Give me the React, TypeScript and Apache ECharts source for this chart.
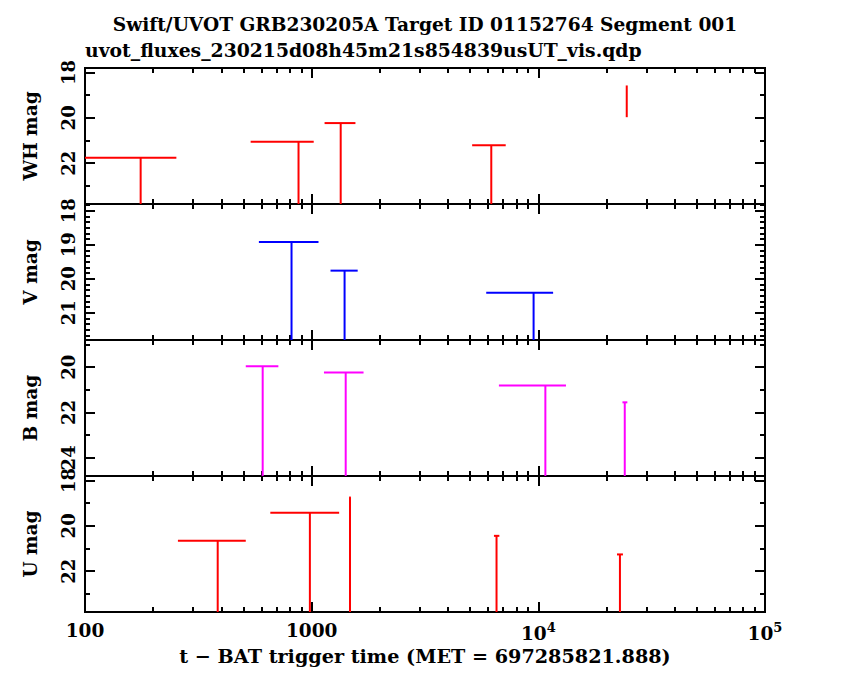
import { useEffect, useRef } from "react";
import * as echarts from "echarts";

const titleText = "Swift/UVOT GRB230205A Target ID 01152764 Segment 001";
const fileText = "uvot_fluxes_230215d08h45m21s854839usUT_vis.qdp";
const xTitle = "t − BAT trigger time (MET = 697285821.888)";

const bandNames = ["WH mag", "V mag", "B mag", "U mag"];
const bandColors = ["#ff0000", "#0000ff", "#ff00ff", "#ff0000"];
const bandMin = [17.8, 17.8, 18.8, 17.8];
const bandMax = [23.8, 21.8, 24.8, 23.8];
const bandMajor = [[18, 20, 22], [18, 19, 20, 21], [20, 22, 24], [18, 20, 22]];
const bandMinor = [
    [19, 21, 23],
    [17.833, 18.167, 18.333, 18.5, 18.667, 18.833, 19.167, 19.333, 19.5, 19.667, 19.833,
        20.167, 20.333, 20.5, 20.667, 20.833, 21.167, 21.333, 21.5, 21.667],
    [19, 21, 23],
    [19, 21, 23],
];

const xMajor = [100, 1000, 10000, 100000];
const xMinor = [200, 300, 400, 500, 600, 700, 800, 900,
    2000, 3000, 4000, 5000, 6000, 7000, 8000, 9000,
    20000, 30000, 40000, 50000, 60000, 70000, 80000, 90000];

// upper limits: mid time, low/high time edges, limiting magnitude
const whTime = [176, 875, 1343, 6200];
const whLow = [100, 538, 1140, 5105];
const whHigh = [253, 1021, 1560, 7180];
const whMag = [21.76, 21.05, 20.23, 21.21];
// detection
const whDetTime = [24550];
const whDetMag = [19.27];
const whDetErr = [0.7];

const vTime = [815, 1397, 9530];
const vLow = [585, 1211, 5890];
const vHigh = [1072, 1596, 11620];
const vMag = [18.92, 19.76, 20.41];

const bTime = [608, 1413, 10740, 24060];
const bLow = [512, 1133, 6700, 23500];
const bHigh = [713, 1694, 13240, 24700];
const bMag = [19.96, 20.23, 20.81, 21.55];

const uTime = [385, 982, 1476, 6540, 22910];
const uLow = [257, 657, 1470, 6370, 22230];
const uHigh = [512, 1322, 1482, 6730, 23620];
const uMag = [20.66, 19.42, 18.73, 20.44, 21.26];

const limits = [
    [whTime, whLow, whHigh, whMag],
    [vTime, vLow, vHigh, vMag],
    [bTime, bLow, bHigh, bMag],
    [uTime, uLow, uHigh, uMag],
];

const FONT = "DejaVu Serif";
const GRID_TOP = 68;
const GRID_H = 136;

function tickAxis(kind: "x" | "y", i: number, position: string, values: number[], length: number) {
    const common: any = {
        gridIndex: i,
        position,
        splitLine: {show: false},
        axisLine: {show: false, onZero: false},
        axisLabel: {show: false},
        axisTick: {show: true, inside: true, length, customValues: values, lineStyle: {color: "#000", width: 2}},
    };
    if (kind === "x") return {...common, type: "log", logBase: 10, min: 100, max: 100000};
    return {...common, type: "value", inverse: true, min: bandMin[i], max: bandMax[i]};
}

function xLabel(v: number) {
    if (v === 100) return "100";
    if (v === 1000) return "1000";
    return "10{sup|" + Math.round(Math.log10(v)) + "}";
}

function buildOption() {
    const grid: any[] = [];
    const xAxis: any[] = [];
    const yAxis: any[] = [];
    const series: any[] = [];

    bandNames.forEach((name, i) => {
        grid.push({
            left: 85, right: 85, top: GRID_TOP + GRID_H * i, height: GRID_H,
            show: true, borderColor: "#000", borderWidth: 2, backgroundColor: "transparent",
        });

        const xb = tickAxis("x", i, "bottom", xMajor, 10);
        if (i === 3) {
            xb.axisLabel = {
                show: true, customValues: xMajor, formatter: xLabel, margin: 9,
                color: "#000", fontFamily: FONT, fontWeight: "bold", fontSize: 18.5,
                rich: {sup: {fontFamily: FONT, fontWeight: "bold", fontSize: 13, color: "#000", padding: [0, 0, 11, 0]}},
            };
            xb.name = xTitle;
            xb.nameLocation = "middle";
            xb.nameGap = 35;
            xb.nameTextStyle = {color: "#000", fontFamily: FONT, fontWeight: "bold", fontSize: 19.2};
        }
        xAxis.push(xb, tickAxis("x", i, "bottom", xMinor, 5), tickAxis("x", i, "top", xMajor, 10), tickAxis("x", i, "top", xMinor, 5));

        const yl = tickAxis("y", i, "left", bandMajor[i], 10);
        yl.axisLabel = {
            show: true, customValues: bandMajor[i], rotate: 90, margin: 8,
            color: "#000", fontFamily: FONT, fontWeight: "bold", fontSize: 18,
        };
        yl.name = name;
        yl.nameLocation = "middle";
        yl.nameGap = 45;
        yl.nameTextStyle = {color: "#000", fontFamily: FONT, fontWeight: "bold", fontSize: 18.5};
        yAxis.push(yl, tickAxis("y", i, "left", bandMinor[i], 5), tickAxis("y", i, "right", bandMajor[i], 10), tickAxis("y", i, "right", bandMinor[i], 5));

        const [t, lo, hi, mag] = limits[i];
        const color = bandColors[i];
        const yMax = bandMax[i];
        series.push({
            type: "custom",
            xAxisIndex: 4 * i,
            yAxisIndex: 4 * i,
            clip: true,
            silent: true,
            data: t.map((v, k) => [v, lo[k], hi[k], mag[k]]),
            encode: {x: [0, 1, 2], y: 3},
            renderItem: (_params: any, api: any) => {
                const m = api.value(3);
                const c = api.coord([api.value(0), m]);
                const l = api.coord([api.value(1), m]);
                const r = api.coord([api.value(2), m]);
                const b = api.coord([api.value(0), yMax]);
                const style = {stroke: color, lineWidth: 2};
                return {
                    type: "group",
                    children: [
                        {type: "line", shape: {x1: l[0], y1: l[1], x2: r[0], y2: r[1]}, style},
                        {type: "line", shape: {x1: c[0], y1: c[1], x2: b[0], y2: b[1]}, style},
                    ],
                };
            },
        });
    });

    series.push({
        type: "custom",
        xAxisIndex: 0,
        yAxisIndex: 0,
        clip: true,
        silent: true,
        data: whDetTime.map((v, k) => [v, whDetMag[k], whDetErr[k]]),
        encode: {x: 0, y: 1},
        renderItem: (_params: any, api: any) => {
            const top = api.coord([api.value(0), api.value(1) - api.value(2)]);
            const bot = api.coord([api.value(0), api.value(1) + api.value(2)]);
            return {
                type: "line",
                shape: {x1: top[0], y1: top[1], x2: bot[0], y2: bot[1]},
                style: {stroke: bandColors[0], lineWidth: 2},
            };
        },
    });

    return {
        animation: false,
        backgroundColor: "#fff",
        title: [
            {
                text: titleText, left: "center", top: 15, padding: 0,
                textStyle: {color: "#000", fontFamily: FONT, fontWeight: "bold", fontSize: 18.6},
            },
            {
                text: fileText, left: 85, top: 40, padding: 0,
                textStyle: {color: "#000", fontFamily: FONT, fontWeight: "bold", fontSize: 18.8},
            },
        ],
        grid,
        xAxis,
        yAxis,
        series,
    };
}

export default function App() {
    const domRef = useRef<HTMLDivElement>(null);

    useEffect(() => {
        if (!domRef.current) return;
        const chart = echarts.init(domRef.current, null, {renderer: "svg"});
        chart.setOption(buildOption());
        return () => chart.dispose();
    }, []);

    return <div ref={domRef} style={{position: "fixed", left: 0, top: 0, width: 850, height: 680}} />;
}
